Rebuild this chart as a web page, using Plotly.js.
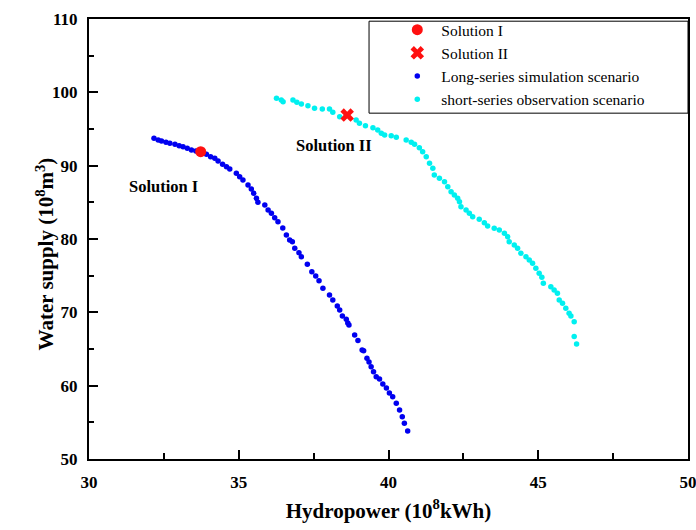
<!DOCTYPE html>
<html>
<head>
<meta charset="utf-8">
<script src="https://cdn.plot.ly/plotly-3.0.1.min.js"></script>
<style>html,body{margin:0;padding:0;background:#fff;}#chart{width:696px;height:530px;}</style>
</head>
<body>
<div id="chart"></div>
<script>
// Long-series simulation scenario
const longX = [32.17,32.31,32.42,32.57,32.70,32.87,33.01,33.14,33.28,33.42,33.57,33.92,34.06,34.20,34.31,34.46,34.59,34.70,34.92,35.03,35.14,35.31,35.42,35.50,35.59,35.64,35.87,35.98,36.09,36.20,36.31,36.47,36.59,36.70,36.79,36.87,37.01,37.09,37.29,37.44,37.57,37.68,37.81,38.03,38.14,38.29,38.37,38.46,38.59,38.64,38.68,38.87,38.98,39.12,39.17,39.28,39.35,39.42,39.50,39.59,39.70,39.81,39.93,40.03,40.14,40.26,40.37,40.46,40.53,40.64];
const longY = [93.73,93.50,93.36,93.19,93.05,92.91,92.72,92.59,92.37,92.14,92.00,91.55,91.22,91.00,90.64,90.19,89.86,89.55,88.96,88.49,88.04,87.36,86.82,86.23,85.55,85.00,84.64,83.95,83.50,82.90,82.35,81.50,80.54,79.86,79.63,78.73,78.13,77.59,76.55,75.54,74.95,74.31,73.28,72.36,71.68,70.86,70.32,69.50,69.05,68.54,68.27,66.91,66.16,64.86,64.77,63.73,63.23,62.58,61.90,61.22,60.91,60.23,59.68,59.00,58.49,57.59,56.68,55.77,54.87,53.82];
// short-series observation scenario
const shortX = [36.26,36.42,36.48,36.81,36.94,37.09,37.31,37.53,37.79,38.03,38.14,38.37,38.59,38.92,39.03,39.23,39.48,39.64,39.76,39.87,40.09,40.26,40.59,40.76,40.87,41.03,41.14,41.26,41.37,41.48,41.53,41.70,41.87,41.98,42.09,42.20,42.31,42.37,42.42,42.59,42.70,42.81,43.03,43.20,43.31,43.53,43.70,43.87,43.98,44.03,44.20,44.31,44.42,44.59,44.70,44.81,44.92,45.03,45.12,45.17,45.42,45.53,45.64,45.70,45.81,45.92,46.03,46.09,46.20,46.20,46.28];
const shortY = [99.19,98.95,98.72,98.95,98.64,98.41,98.18,97.82,97.73,97.73,97.28,96.68,96.91,96.23,95.78,95.45,95.18,94.86,94.41,94.18,94.09,93.87,93.50,93.19,92.91,92.45,91.90,91.22,90.32,89.64,88.73,88.28,87.81,87.13,86.45,86.00,85.55,85.09,84.40,83.95,83.50,83.04,82.68,82.22,81.77,81.46,81.23,80.78,80.31,79.63,79.18,78.73,78.05,77.59,77.14,76.69,76.00,75.32,74.78,73.96,73.50,73.05,72.59,71.68,71.23,70.55,69.87,69.50,68.72,66.70,65.68];
// Chosen solutions
const sol1X = [33.73], sol1Y = [91.9];
const sol2X = [38.62], sol2Y = [96.9];
const seriesNames = ["Solution I", "Solution II", "Long-series simulation scenario", "short-series observation scenario"];
const xTickVals = [30, 35, 40, 45, 50];
const yTickVals = [50, 60, 70, 80, 90, 100, 110];

const serif = "Liberation Serif, Times New Roman, serif";

const traces = [
  {x: longX, y: longY, type: "scatter", mode: "markers", name: seriesNames[2], legendrank: 3,
   marker: {color: "#0000f0", size: 5.5}},
  {x: shortX, y: shortY, type: "scatter", mode: "markers", name: seriesNames[3], legendrank: 4,
   marker: {color: "#00f0f0", size: 5.5}},
  {x: sol1X, y: sol1Y, type: "scatter", mode: "markers", name: seriesNames[0], legendrank: 1,
   marker: {color: "#ff1010", size: 11, symbol: "circle"}},
  {x: sol2X, y: sol2Y, type: "scatter", mode: "markers", name: seriesNames[1], legendrank: 2,
   marker: {color: "#ff1010", size: 12, symbol: "x"}}
];

const axisCommon = {
  showgrid: false, zeroline: false, showline: true, linecolor: "black", linewidth: 2,
  mirror: true, ticks: "inside", ticklen: 9, tickwidth: 2, tickcolor: "black",
  ticklabeloverflow: "allow",
  tickfont: {family: serif, size: 17, color: "black", weight: "bold"}
};

const layout = {
  width: 696, height: 530,
  paper_bgcolor: "white", plot_bgcolor: "white",
  margin: {l: 89, r: 8, t: 19, b: 71},
  showlegend: true,
  legend: {x: 0.508, y: 1.0134, xanchor: "left", yanchor: "top", bgcolor: "rgba(0,0,0,0)",
    borderwidth: 0, itemwidth: 38, font: {family: serif, size: 15.5, color: "black"}, tracegroupgap: 0},
  xaxis: Object.assign({}, axisCommon, {
    range: [30, 50], tickvals: xTickVals, ticklabelstandoff: 7,
    minor: {dtick: 2.5, ticks: "inside", ticklen: 6, tickwidth: 2, tickcolor: "black"},
    title: {text: "Hydropower (10<sup>8</sup>kWh)", font: {family: serif, size: 21, color: "black", weight: "bold"}, standoff: 12}
  }),
  yaxis: Object.assign({}, axisCommon, {
    range: [50, 110], tickvals: yTickVals, ticklabelstandoff: 6,
    minor: {dtick: 5, ticks: "inside", ticklen: 5, tickwidth: 2, tickcolor: "black"},
    title: {text: ""}
  }),
  shapes: [
    {type: "rect", xref: "paper", yref: "paper", x0: 0.4675, x1: 1, y0: 0.786, y1: 0.995,
     line: {color: "black", width: 1}, fillcolor: "rgba(0,0,0,0)"}
  ],
  annotations: [
    {x: 32.5, y: 87.2, xref: "x", yref: "y", text: "Solution I", showarrow: false,
     font: {family: serif, size: 16.5, color: "black", weight: "bold"}},
    {x: 38.17, y: 92.7, xref: "x", yref: "y", text: "Solution II", showarrow: false,
     font: {family: serif, size: 16.5, color: "black", weight: "bold"}},
    {x: -0.0985, y: 0.466, xref: "paper", yref: "paper", textangle: -90, showarrow: false,
     text: "Water supply (10<sup>8</sup>m<sup>3</sup>)",
     font: {family: serif, size: 21, color: "black", weight: "bold"}}
  ]
};

Plotly.newPlot("chart", traces, layout, {displayModeBar: false, staticPlot: true});
</script>
</body>
</html>
